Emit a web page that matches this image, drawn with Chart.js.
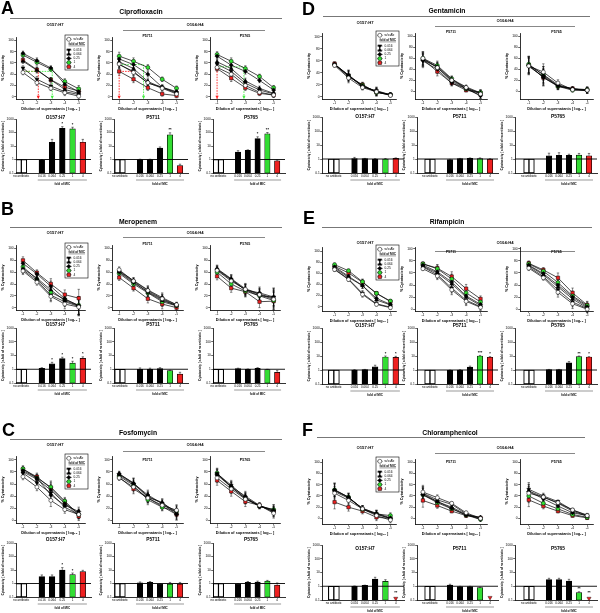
<!DOCTYPE html>
<html><head><meta charset="utf-8">
<script src="https://cdn.jsdelivr.net/npm/chart.js@4/dist/chart.umd.min.js"></script>
<style>
html,body{margin:0;padding:0;background:#fff}
body{width:600px;height:613px;position:relative;overflow:hidden;font-family:"Liberation Sans",Arial,Helvetica,sans-serif}
canvas{position:absolute}
.t{position:absolute;white-space:nowrap;color:#000;font-weight:bold;line-height:1;will-change:transform}
.ln{position:absolute;height:1px}
</style></head><body>
<script>
// ---------------- DATA ----------------
const dilutions = [-1, -2, -3, -4, -5];
const seriesNames = ['w/o Ab', '0.016', '0.064', '0.25', '1', '4'];
const barCats = [0, 2, 3, 4, 5, 6];
const barCatLabels = {0: 'no antibiotic', 2: '0.016', 3: '0.064', 4: '0.25', 5: '1', 6: '4'};
const noAbBars = [[-0.26, 1], [0.26, 1]];
const yTicksLine = [0, 20, 40, 60, 80, 100];
const yTicksBar = [0.1, 1, 10, 100, 1000];
const strainTitles = ['O157:H7', 'P5711', 'P5765'];

// Ciprofloxacin (series order: w/o Ab, 0.016, 0.064, 0.25, 1, 4)
const cipro_O157 = [[43,25,15,7,1],[51,31,19,9,4],[63,47,30,13,6],[77,64,51,22,9],[74,61,49,27,14],[65,48,30,17,10]];
const cipro_P5711 = [[58,43,25,15,5],[57,45,24,17,6],[62,50,27,16,8],[67,57,40,17,9],[72,63,52,31,15],[45,31,16,5,2]];
const cipro_P5765 = [[52,40,20,8,3],[58,45,24,12,5],[62,50,28,15,6],[72,56,45,29,12],[75,63,50,36,16],[50,33,16,6,3]];
const cipro_err = [[4,5,4,5,6],[7,6,5,4,4],[5,6,5,4,4]];
const cipro_bars = [[0.9,19,205,185,19],[1.0,1.0,7,68,0.35],[3.5,4.8,35,80,0.8]];
const cipro_tops = [[1.0,31,270,245,31],[1.05,1.05,8.5,95,0.45],[4.5,5.2,48,100,0.9]];
const cipro_stars = [['','','*','*',''],['','','','**',''],['','','*','**','']];

// Meropenem
const mero_O157 = [[62,43,19,6,1],[64,46,21,10,2],[66,50,30,12,3],[75,57,36,15,3],[69,48,26,14,4],[80,59,40,22,16]];
const mero_P5711 = [[64,45,29,15,5],[60,42,27,14,3],[61,44,26,12,4],[62,46,30,17,5],[58,40,25,10,3],[51,33,15,6,0]];
const mero_P5765 = [[63,45,31,22,14],[65,48,30,20,18],[66,49,32,23,16],[64,47,30,25,18],[60,40,28,20,12],[53,33,27,10,11]];
const mero_err = [[6,5,9,8,15],[5,5,7,8,4],[6,7,9,10,15]];
const mero_bars = [[1.15,2.5,6,2.8,6.2],[1.0,1.0,1.1,0.8,0.45],[1.1,1.0,1.15,0.95,0.6]];
const mero_tops = [[1.3,3.2,7.5,3.8,8],[1.25,1.2,1.3,0.85,0.6],[1.2,1.05,1.3,1.0,0.8]];
const mero_stars = [['','*','*','*','*'],['','','','',''],['','','','','']];

// Fosfomycin
const fosfo_O157 = [[72,55,33,18,10],[78,62,45,22,10],[80,68,50,28,12],[82,70,42,25,15],[85,70,55,32,10],[84,72,53,30,7]];
const fosfo_P5711 = [[70,55,37,25,17],[75,60,40,28,15],[76,62,38,30,12],[77,61,42,28,10],[73,58,34,22,15],[71,52,37,23,10]];
const fosfo_P5765 = [[70,52,35,25,12],[77,58,38,24,15],[75,55,37,23,18],[76,56,40,25,14],[78,55,36,24,18],[66,48,31,25,16]];
const fosfo_err = [[5,6,10,6,7],[4,8,8,6,9],[8,8,8,4,8]];
const fosfo_bars = [[3.2,3.2,10,4.5,7.5],[1.1,1.2,0.95,0.9,0.9],[0.95,1.2,1.25,1.5,0.75]];
const fosfo_tops = [[4.3,4.3,15,6,9.5],[1.3,1.4,1.0,1.2,1.2],[1.0,1.4,1.5,1.7,1.1]];
const fosfo_stars = [['','','*','*',''],['','','','',''],['','','','','']];

// Gentamicin
const genta_O157 = [[52,31,15,8,2],[54,36,16,10,3],[54,35,17,9,3],[53,36,18,8,3],[53,34,19,7,3],[55,33,20,7,3]];
const genta_P5711 = [[60,43,20,7,-5],[55,40,15,5,-8],[58,45,22,8,-3],[57,44,18,5,-8],[60,47,23,4,-2],[58,36,15,2,-3]];
const genta_P5765 = [[46,35,15,3,2],[45,27,10,3,1],[48,30,12,4,2],[47,25,10,5,1],[49,30,9,2,3],[48,25,9,5,3]];
const genta_err = [[3,8,4,6,3],[12,8,5,3,5],[15,15,6,3,5]];
const genta_bars = [[1.05,1.05,1.0,1.0,1.1],[0.9,1.05,1.1,1.05,0.98],[1.7,1.8,1.8,1.9,1.7]];
const genta_tops = [[1.3,1.1,1.05,1.08,1.2],[0.95,1.1,1.2,1.2,1.05],[2.6,2.8,2.2,2.5,2.5]];
const genta_stars = [['','','','',''],['','','','',''],['','','','','']];

// Rifampicin
const rif_O157 = [[67,49,22,4,-2],[68,50,24,5,-1],[70,53,38,12,3],[72,55,38,15,4],[76,65,45,24,10],[73,61,44,24,9]];
const rif_P5711 = [[67,55,32,13,3],[70,57,35,15,4],[71,60,42,20,6],[73,62,45,22,8],[75,67,50,27,12],[75,68,54,34,17]];
const rif_P5765 = [[68,52,28,9,0],[70,54,32,12,1],[72,57,37,17,2],[73,59,40,20,4],[75,63,44,22,6],[76,65,52,27,7]];
const rif_err = [[3,3,5,3,3],[3,6,8,7,5],[4,4,8,8,6]];
const rif_bars = [[1.0,1.05,1.7,8.5,8],[0.95,1.0,1.6,10,8.2],[1.05,1.05,3.2,9,8.5]];
const rif_tops = [[1.05,1.1,2.2,10,9.5],[1.0,1.05,1.9,11,9],[1.1,1.1,4,10,9]];
const rif_stars = [['','','','*','*'],['','','','***','*'],['','','','**','*']];

// Chloramphenicol
const chlor_O157 = [[45,32,17,5,-3],[48,36,18,8,0],[50,37,18,9,1],[51,38,17,7,0],[51,38,16,8,5],[29,20,13,2,0]];
const chlor_P5711 = [[47,37,27,10,0],[45,33,25,8,-2],[44,30,20,7,2],[42,30,18,6,1],[42,28,17,6,-2],[32,23,13,5,1]];
const chlor_P5765 = [[45,38,28,15,5],[52,40,30,15,6],[49,38,27,13,4],[48,35,22,10,5],[40,27,17,7,2],[33,22,13,5,1]];
const chlor_err = [[12,7,5,6,5],[12,5,3,3,2],[12,5,3,3,3]];
const chlor_bars = [[1.0,1.15,3.3,2.3,null],[1.2,0.95,0.95,0.8,null],[3.0,3.0,2.4,0.35,null]];
const chlor_tops = [[1.05,1.2,4.5,3.0,null],[1.4,1.0,1.0,0.85,null],[3.8,3.8,3.2,0.4,null]];
const chlor_low = [0.13, 0.15, 0.13];
const chlor_stars = [['','','','','**'],['','','','',''],['','','','**','**']];

// Ciprofloxacin guide lines (dashed)
const cipro_guides = [
  [{c:'red', pts:[[-1,45],[-2.1,45],[-2.1,-4]]},{c:'green', pts:[[-1,45],[-3.1,45],[-3.1,-4]]}],
  [{c:'red', pts:[[-1.9,45],[-1,45],[-1,-4]]},{c:'green', pts:[[-1,57],[-2.7,57],[-2.7,-4]]}],
  [{c:'red', pts:[[-1,50],[-1,-4]]},{c:'green', pts:[[-1,53],[-2.9,53],[-2.9,-4]]}]
];

// ---------------- STYLE / LAYOUT ----------------
const FONT = '"Liberation Sans", Arial, Helvetica, sans-serif';
Chart.defaults.font.family = FONT;
Chart.defaults.color = '#000';
Chart.defaults.animation = false;
const GREEN = '#33dd33', RED = '#ee2020';
const GUIDE = {red: '#ff2020', green: '#44ee44'};
const ST = [
  {ps:'circle', bg:'#fff', r:2},
  {ps:'triangle', rot:180, bg:'#000', r:2.2},
  {ps:'triangle', rot:0, bg:'#000', r:2.2},
  {ps:'rectRot', bg:'#000', r:2.1},
  {ps:'circle', bg:GREEN, r:2},
  {ps:'rect', bg:RED, r:2.4}
];
const YW = 15, RP = 7, TPL = 5, XHL = 12, TPB = 7, XHB = 17;
const LCOLS = [[16,85,-5.45,-0.5],[112,183,-5.45,-0.5],[210,280,-5.45,-0.5]];
const RCOLS = [[322,396,-5.4,-0.1],[415,487,-5.45,-0.45],[520,593,-5.4,-0.4]];
const LBCOLS = [[16,91,-0.52,6.8],[114,188,-0.6,6.8],[213,285,-0.56,6.8]];
const RBCOLS = [[322,404,-1.15,6.8],[417,498,-1.3,6.8],[515,597,-1.4,6.8]];

const panels = [
  {letter:'A', lx:1, ly:7.5, title:'Ciprofloxacin', tx:141, ty:12, tl:[10,282,18], sy:[25,25], ol:[123,265,30], side:'L',
   lTop:36.5, lBot:99, yr:[[-4,106],[-4,106],[-4,106]], ltDy:-1.5, bTop:118.5, bBot:172.5, btDy:-1.5,
   lines:[cipro_O157,cipro_P5711,cipro_P5765], errs:cipro_err, bars:cipro_bars, tops:cipro_tops, stars:cipro_stars, low:[null,null,null], guides:cipro_guides},
  {letter:'B', lx:1, ly:209, title:'Meropenem', tx:138, ty:222, tl:[10,282,227], sy:[233,233], ol:[123,265,237], side:'L',
   lTop:244.7, lBot:310.1, yr:[[-4,106],[-4,106],[-4,106]], ltDy:-1.4, bTop:328.3, bBot:382.7, btDy:-3,
   lines:[mero_O157,mero_P5711,mero_P5765], errs:mero_err, bars:mero_bars, tops:mero_tops, stars:mero_stars, low:[null,null,null], guides:null},
  {letter:'C', lx:2, ly:430, title:'Fosfomycin', tx:138, ty:433, tl:[10,282,439], sy:[445,445], ol:[123,265,450.5], side:'L',
   lTop:456.4, lBot:523.1, yr:[[-4,106],[-4,106],[-4,106]], ltDy:3.6, bTop:542.7, bBot:596.7, btDy:-3.5,
   lines:[fosfo_O157,fosfo_P5711,fosfo_P5765], errs:fosfo_err, bars:fosfo_bars, tops:fosfo_tops, stars:fosfo_stars, low:[null,null,null], guides:null},
  {letter:'D', lx:302, ly:9, title:'Gentamicin', tx:447, ty:11, tl:[323,590,16], sy:[23,21], ol:[435,575,25.5], side:'R',
   lTop:33.4, lBot:98.5, yr:[[-4,106],[-14,106],[-14,106]], ltDy:-1, bTop:117, bBot:173, btDy:0,
   lines:[genta_O157,genta_P5711,genta_P5765], errs:genta_err, bars:genta_bars, tops:genta_tops, stars:genta_stars, low:[null,null,null], guides:null},
  {letter:'E', lx:303, ly:217.5, title:'Rifampicin', tx:447, ty:222, tl:[322,592,227], sy:[243,243], ol:[435,575,250.5], side:'R',
   lTop:247, lBot:311, yr:[[-8,108],[-3,103],[-3,103]], ltDy:5.3, bTop:328.3, bBot:384.3, btDy:-2.3,
   lines:[rif_O157,rif_P5711,rif_P5765], errs:rif_err, bars:rif_bars, tops:rif_tops, stars:rif_stars, low:[null,null,null], guides:null},
  {letter:'F', lx:302, ly:429.5, title:'Chloramphenicol', tx:450, ty:433, tl:[317,585,437], sy:[448,448], ol:[435,575,452.5], side:'R',
   lTop:459.3, lBot:524, yr:[[-10,106],[-10,106],[-10,106]], ltDy:3, bTop:544.5, bBot:599.5, btDy:3.5,
   lines:[chlor_O157,chlor_P5711,chlor_P5765], errs:chlor_err, bars:chlor_bars, tops:chlor_tops, stars:chlor_stars, low:chlor_low, guides:null}
];

// ---------------- HELPERS ----------------
function makeText(s, x, y, size, left){
  const d = document.createElement('div'); d.className = 't'; d.textContent = s;
  d.style.fontSize = size + 'px'; d.style.left = x + 'px'; d.style.top = y + 'px';
  d.style.transform = left ? 'translate(0,-50%)' : 'translate(-50%,-50%)';
  document.body.appendChild(d);
}
function makeLine(x1, x2, y, c){
  const d = document.createElement('div'); d.className = 'ln';
  d.style.left = x1 + 'px'; d.style.top = y + 'px'; d.style.width = (x2 - x1) + 'px'; d.style.background = c;
  document.body.appendChild(d);
}
function mk(l, t, w, h){
  const c = document.createElement('canvas');
  c.width = w; c.height = h; c.style.left = l + 'px'; c.style.top = t + 'px';
  c.style.width = w + 'px'; c.style.height = h + 'px';
  document.body.appendChild(c); return c;
}
function drawMarker(ctx, st, x, y){
  const r = st.r; ctx.save(); ctx.fillStyle = st.bg; ctx.strokeStyle = '#000'; ctx.lineWidth = 0.5; ctx.beginPath();
  if (st.ps === 'circle') ctx.arc(x, y, r, 0, Math.PI * 2);
  else if (st.ps === 'triangle') { const s = st.rot ? -1 : 1; ctx.moveTo(x, y - s * r); ctx.lineTo(x + r * 0.87, y + s * r * 0.5); ctx.lineTo(x - r * 0.87, y + s * r * 0.5); ctx.closePath(); }
  else if (st.ps === 'rectRot') { ctx.moveTo(x, y - r); ctx.lineTo(x + r, y); ctx.lineTo(x, y + r); ctx.lineTo(x - r, y); ctx.closePath(); }
  else { const h = r * 0.707; ctx.rect(x - h, y - h, 2 * h, 2 * h); }
  ctx.fill(); ctx.stroke(); ctx.restore();
}
function drawLegend(ctx, a){
  const L = a.right - 20, T = a.top - 2, W = 23, H = 35;
  ctx.save();
  ctx.fillStyle = '#fff'; ctx.fillRect(L, T, W, H);
  ctx.strokeStyle = '#000'; ctx.lineWidth = 0.6; ctx.strokeRect(L, T, W, H);
  const rowsY = [4.3, 15, 19.2, 23.4, 27.6, 31.8];
  rowsY.forEach((dy, i) => {
    const y = T + dy;
    ctx.strokeStyle = '#000'; ctx.lineWidth = 0.6;
    ctx.beginPath(); ctx.moveTo(L + 1.2, y); ctx.lineTo(L + 6.5, y); ctx.stroke();
    drawMarker(ctx, ST[i], L + 3.8, y);
    ctx.fillStyle = '#000'; ctx.font = '3.2px ' + FONT; ctx.textBaseline = 'middle'; ctx.textAlign = 'left';
    ctx.fillText(seriesNames[i], L + 8.5, y);
  });
  ctx.font = 'bold 3.2px ' + FONT; ctx.textAlign = 'left'; ctx.textBaseline = 'middle';
  ctx.fillText('fold of MIC', L + 3.5, T + 9);
  const tw = ctx.measureText('fold of MIC').width;
  ctx.lineWidth = 0.4; ctx.beginPath(); ctx.moveTo(L + 3.5, T + 10.9); ctx.lineTo(L + 3.5 + tw, T + 10.9); ctx.stroke();
  ctx.restore();
}
const axisGrid = {display:true, drawOnChartArea:false, drawTicks:true, tickLength:1.8, color:'#000', lineWidth:0.6};
const axisBorder = {display:true, color:'#000', width:0.8};

// ---------------- LINE CHART ----------------
function lineChart(p, ci){
  const [l, r, xmin, xmax] = (p.side === 'L' ? LCOLS : RCOLS)[ci];
  const L = Math.round(l), R = Math.round(r), T = Math.round(p.lTop), B = Math.round(p.lBot);
  const cv = mk(L - YW, T - TPL, R - L + YW + RP, B - T + TPL + XHL);
  const series = p.lines[ci], errs = p.errs[ci], guides = p.guides ? p.guides[ci] : null;
  const yr = p.yr[ci];
  const datasets = series.map((vals, si) => ({
    data: vals.map((v, j) => ({x: dilutions[j], y: v})),
    borderColor: '#000', borderWidth: 0.7,
    pointStyle: ST[si].ps, rotation: ST[si].rot || 0, pointRadius: ST[si].r,
    pointBackgroundColor: ST[si].bg, pointBorderColor: '#000', pointBorderWidth: 0.5,
    pointHoverRadius: 0, tension: 0, clip: false
  }));
  new Chart(cv, {
    type: 'line',
    data: {datasets},
    options: {
      responsive: false, animation: false, devicePixelRatio: 1, events: [],
      layout: {padding: {left: 0, right: RP, top: TPL, bottom: 0}},
      plugins: {legend: {display: false}, tooltip: {enabled: false}},
      scales: {
        x: {type: 'linear', min: xmin, max: xmax, reverse: true,
          afterBuildTicks: s => { s.ticks = dilutions.map(v => ({value: v})); },
          afterFit: s => { s.height = XHL; s.paddingLeft = 0; s.paddingRight = 0; },
          ticks: {font: {size: 3.3}, padding: 0.3, maxRotation: 0, autoSkip: false, callback: v => String(v)},
          grid: axisGrid, border: axisBorder,
          title: {display: true, text: 'Dilution of supernatants [ log\u2081\u2080 ]', font: {size: 3.8, weight: 'bold'}, padding: 0}},
        y: {type: 'linear', min: yr[0], max: yr[1],
          afterBuildTicks: s => { s.ticks = yTicksLine.map(v => ({value: v})); },
          afterFit: s => { s.width = YW; s.paddingTop = 0; s.paddingBottom = 0; },
          ticks: {font: {size: 3.3}, padding: 0.5, callback: v => String(v)},
          grid: axisGrid, border: axisBorder,
          title: {display: true, text: '% Cytotoxicity', font: {size: 3.8, weight: 'bold'}, padding: 0}}
      }
    },
    plugins: [{
      id: 'lineExtras',
      beforeDatasetsDraw(ch){
        const ctx = ch.ctx, xs = ch.scales.x, ys = ch.scales.y;
        ctx.save();
        ctx.strokeStyle = '#000'; ctx.lineWidth = 0.45;
        series.forEach(vals => vals.forEach((v, j) => {
          const e = errs[j], x = xs.getPixelForValue(dilutions[j]);
          const y1 = ys.getPixelForValue(v + e), y0 = ys.getPixelForValue(v - e);
          ctx.beginPath();
          ctx.moveTo(x, y0); ctx.lineTo(x, y1);
          ctx.moveTo(x - 1.2, y1); ctx.lineTo(x + 1.2, y1);
          ctx.moveTo(x - 1.2, y0); ctx.lineTo(x + 1.2, y0);
          ctx.stroke();
        }));
        if (guides) guides.forEach(g => {
          const pts = g.pts.map(q => [xs.getPixelForValue(q[0]), ys.getPixelForValue(q[1])]);
          ctx.strokeStyle = GUIDE[g.c]; ctx.fillStyle = GUIDE[g.c]; ctx.lineWidth = 0.9;
          ctx.setLineDash([1.6, 1.1]);
          ctx.beginPath(); pts.forEach((q, k) => k ? ctx.lineTo(q[0], q[1]) : ctx.moveTo(q[0], q[1])); ctx.stroke();
          ctx.setLineDash([]);
          const e = pts[pts.length - 1];
          ctx.beginPath(); ctx.moveTo(e[0] - 1.6, e[1] - 3.2); ctx.lineTo(e[0] + 1.6, e[1] - 3.2); ctx.lineTo(e[0], e[1]); ctx.closePath(); ctx.fill();
        });
        ctx.restore();
      },
      afterDraw(ch){
        const ctx = ch.ctx, a = ch.chartArea;
        if (ci > 0) {
          ctx.save(); ctx.fillStyle = '#000'; ctx.font = 'bold 3.6px ' + FONT; ctx.textAlign = 'center'; ctx.textBaseline = 'middle';
          ctx.fillText(strainTitles[ci], (a.left + a.right) / 2, a.top + p.ltDy); ctx.restore();
        } else {
          drawLegend(ctx, a);
        }
      }
    }]
  });
}

// ---------------- BAR CHART ----------------
function barChart(p, ci){
  const [l, r, xmin, xmax] = (p.side === 'L' ? LBCOLS : RBCOLS)[ci];
  const L = Math.round(l), R = Math.round(r), T = Math.round(p.bTop), B = Math.round(p.bBot);
  const cv = mk(L - YW, T - TPB, R - L + YW + RP, B - T + TPB + XHB);
  const w = (R - L) / (xmax - xmin);
  const vals = p.bars[ci], tops = p.tops[ci], stars = p.stars[ci], low = p.low[ci];
  const colors = ['#000', '#000', '#000', GREEN, RED];
  const pts = [], bg = [], bw = [];
  noAbBars.forEach(b => { pts.push({x: b[0], y: b[1]}); bg.push('#fff'); bw.push(1.1); });
  vals.forEach((v, i) => { if (v != null) { pts.push({x: barCats[i + 1], y: v}); bg.push(colors[i]); bw.push(0.7); } });
  const datasets = [
    {type: 'bar', data: pts, backgroundColor: bg, borderColor: '#000', borderWidth: bw, borderSkipped: false, barThickness: 0.55 * w, grouped: false}
  ];
  if (low != null) datasets.push({type: 'line', data: [{x: 6, y: low}], showLine: false, pointStyle: 'triangle', rotation: 180,
    pointRadius: 2.4, pointBackgroundColor: RED, pointBorderColor: '#000', pointBorderWidth: 0.4, pointHoverRadius: 0, clip: false});
  new Chart(cv, {
    type: 'bar',
    data: {datasets},
    options: {
      responsive: false, animation: false, devicePixelRatio: 1, events: [],
      layout: {padding: {left: 0, right: RP, top: TPB, bottom: 0}},
      plugins: {legend: {display: false}, tooltip: {enabled: false}},
      scales: {
        x: {type: 'linear', min: xmin, max: xmax, offset: false,
          afterBuildTicks: s => { s.ticks = barCats.map(v => ({value: v})); },
          afterFit: s => { s.height = XHB; s.paddingLeft = 0; s.paddingRight = 0; },
          ticks: {font: {size: 3}, padding: 1.5, maxRotation: 0, autoSkip: false, callback: v => barCatLabels[v] ?? ''},
          grid: {display: false, drawTicks: false}, border: axisBorder},
        y: {type: 'logarithmic', min: 0.1, max: 1000,
          afterBuildTicks: s => { s.ticks = yTicksBar.map(v => ({value: v})); },
          afterFit: s => { s.width = YW; s.paddingTop = 0; s.paddingBottom = 0; },
          ticks: {font: {size: 3.2}, padding: 0.5, callback: v => String(v)},
          grid: axisGrid, border: axisBorder,
          title: {display: true, text: 'Cytotoxicity [ x-fold of no antibiotic ]', font: {size: 2.9, weight: 'bold'}, padding: 0}}
      }
    },
    plugins: [{
      id: 'barExtras',
      afterDatasetsDraw(ch){
        const ctx = ch.ctx, xs = ch.scales.x, ys = ch.scales.y, a = ch.chartArea;
        ctx.save();
        const y1 = ys.getPixelForValue(1);
        ctx.strokeStyle = '#000'; ctx.lineWidth = 0.9;
        ctx.beginPath(); ctx.moveTo(a.left, y1); ctx.lineTo(a.right, y1); ctx.stroke();
        ctx.lineWidth = 0.5;
        vals.forEach((v, i) => {
          if (v == null || tops[i] == null) return;
          const x = xs.getPixelForValue(barCats[i + 1]);
          const yv = ys.getPixelForValue(v), yt = ys.getPixelForValue(tops[i]);
          ctx.beginPath(); ctx.moveTo(x, yv); ctx.lineTo(x, yt); ctx.moveTo(x - 1.2, yt); ctx.lineTo(x + 1.2, yt); ctx.stroke();
        });
        ctx.fillStyle = '#000'; ctx.font = 'bold 4px ' + FONT; ctx.textAlign = 'center'; ctx.textBaseline = 'bottom';
        stars.forEach((s, i) => {
          if (!s) return;
          const x = xs.getPixelForValue(barCats[i + 1]);
          const ref = tops[i] != null ? tops[i] : (vals[i] != null ? vals[i] : low * 1.6);
          ctx.fillText(s, x, ys.getPixelForValue(ref) - 0.6);
        });
        ctx.font = 'bold 4.8px ' + FONT; ctx.textBaseline = 'middle';
        ctx.fillText(strainTitles[ci], (a.left + a.right) / 2 + 2, a.top + p.btDy);
        const xa = xs.getPixelForValue(1.6), xb = xs.getPixelForValue(6.4), yl = a.bottom + 7;
        ctx.strokeStyle = '#333'; ctx.lineWidth = 0.5;
        ctx.beginPath(); ctx.moveTo(xa, yl); ctx.lineTo(xb, yl); ctx.stroke();
        ctx.font = 'bold 3px ' + FONT;
        ctx.fillText('fold of MIC', (xa + xb) / 2, a.bottom + 11.5);
        ctx.restore();
      }
    }]
  });
}

// ---------------- BUILD ----------------
panels.forEach(p => {
  makeText(p.letter, p.lx, p.ly, 18, true);
  makeText(p.title, p.tx, p.ty, 6.8);
  makeLine(p.tl[0], p.tl[1], p.tl[2], '#777');
  const s1x = p.side === 'L' ? 55 : 365, s2x = p.side === 'L' ? 195 : 505;
  makeText('O157:H7', s1x, p.sy[0], 4.2);
  makeText('O104:H4', s2x, p.sy[1], 4.2);
  makeLine(p.ol[0], p.ol[1], p.ol[2], '#888');
  for (let ci = 0; ci < 3; ci++) { lineChart(p, ci); barChart(p, ci); }
});
</script>
</body></html>
